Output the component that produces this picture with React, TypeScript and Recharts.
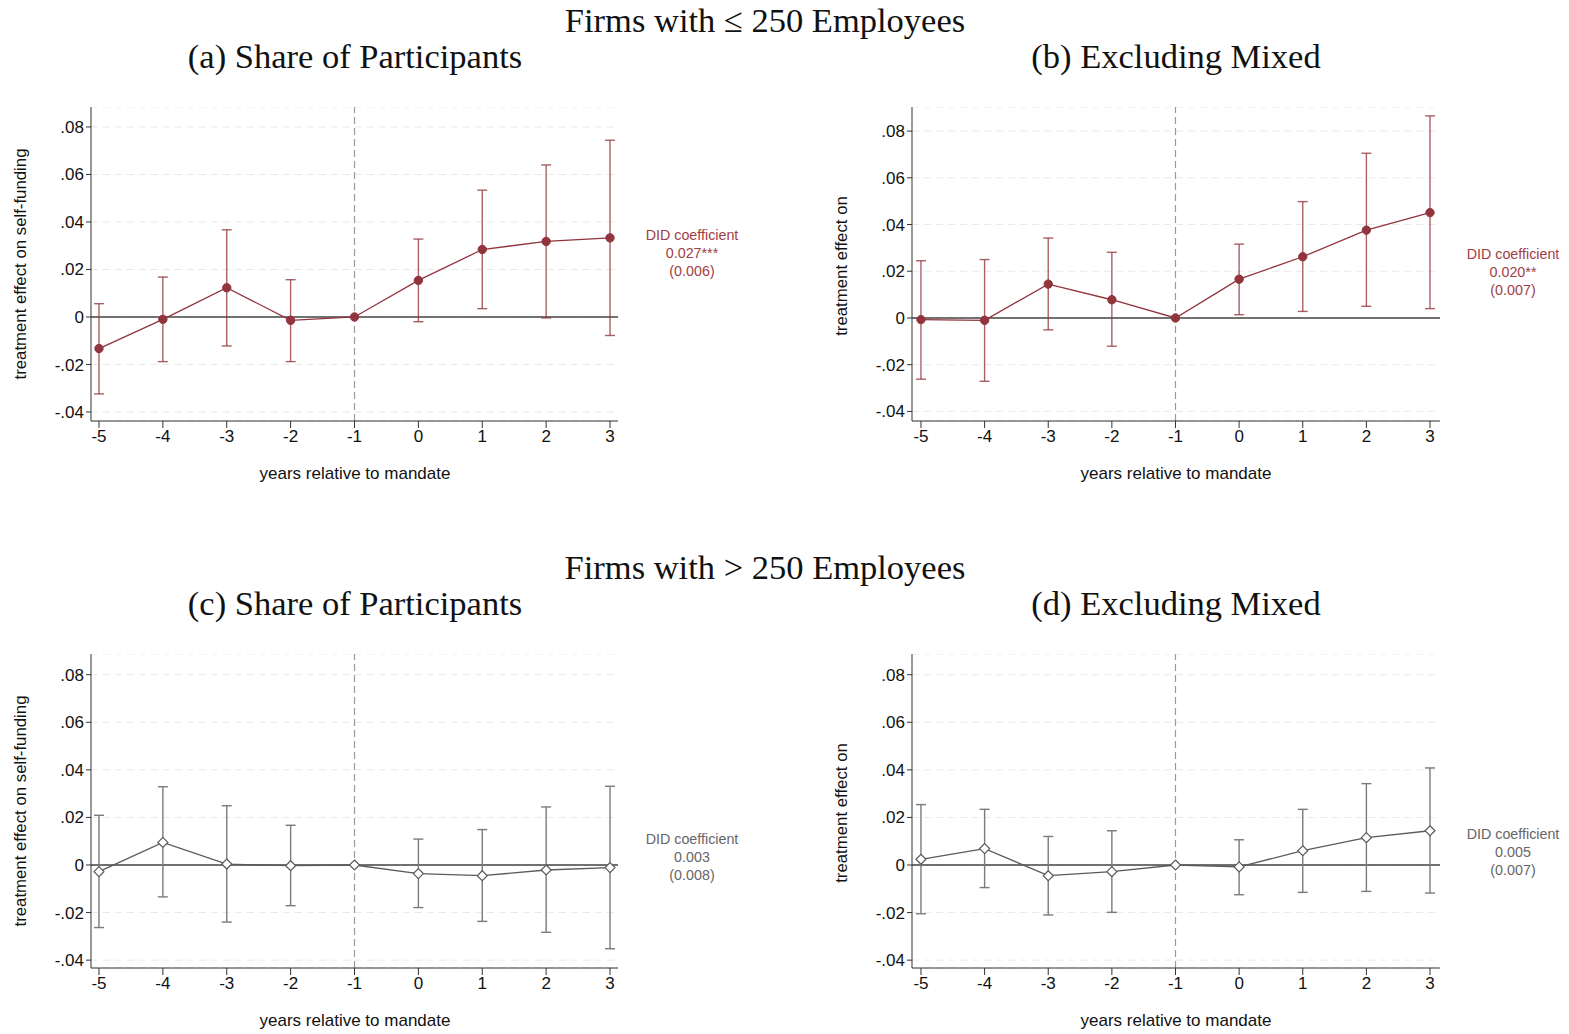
import React from 'react'
import {
    ComposedChart,
    Line,
    XAxis,
    YAxis,
    CartesianGrid,
    ReferenceLine,
    ErrorBar,
} from 'recharts'

// event time, shared by every panel
const years = [-5, -4, -3, -2, -1, 0, 1, 2, 3]
const yTicks = [-0.04, -0.02, 0, 0.02, 0.04, 0.06, 0.08]

// (a) small firms, share of participants
const estA = [-0.0133, -0.001, 0.0123, -0.0014, 0, 0.0154, 0.0284, 0.0318, 0.0333]
const loA = [-0.0324, -0.0188, -0.0122, -0.0188, 0, -0.002, 0.0035, -0.0004, -0.0078]
const hiA = [0.0056, 0.0168, 0.0367, 0.0157, 0, 0.0328, 0.0534, 0.064, 0.0744]

// (b) small firms, excluding mixed
const estB = [-0.0007, -0.001, 0.0145, 0.0078, 0, 0.0166, 0.0262, 0.0376, 0.0451]
const loB = [-0.0262, -0.0271, -0.0051, -0.0121, 0, 0.0014, 0.0028, 0.005, 0.004]
const hiB = [0.0245, 0.025, 0.0342, 0.0281, 0, 0.0316, 0.0498, 0.0705, 0.0865]

// (c) large firms, share of participants
const estC = [-0.0028, 0.0095, 0.0004, -0.0003, 0, -0.0036, -0.0045, -0.0021, -0.0011]
const loC = [-0.0263, -0.0134, -0.024, -0.0171, 0, -0.0179, -0.0237, -0.0283, -0.0352]
const hiC = [0.0209, 0.0329, 0.0249, 0.0167, 0, 0.0109, 0.0149, 0.0244, 0.0331]

// (d) large firms, excluding mixed
const estD = [0.0024, 0.0069, -0.0045, -0.0028, 0, -0.0008, 0.006, 0.0115, 0.0144]
const loD = [-0.0205, -0.0095, -0.021, -0.0199, 0, -0.0125, -0.0115, -0.0111, -0.0118]
const hiD = [0.0254, 0.0234, 0.012, 0.0144, 0, 0.0106, 0.0234, 0.0342, 0.0408]

const MAROON = '#91343c'
const GREY = '#5a5a5a'

const sans = '"Liberation Sans", Arial, Helvetica, sans-serif'
const serif = '"Liberation Serif", "Times New Roman", serif'

const buildRows = (est: number[], lo: number[], hi: number[]) =>
    years.map((yr, i) => ({
        year: yr,
        est: est[i],
        err: yr === -1 ? null : [est[i] - lo[i], hi[i] - est[i]],
    }))

const fmtTick = (v: number) => {
    if (v === 0) return '0'
    const s = v.toFixed(2)
    return s.replace('0.', '.')
}

const Diamond = (props: any) => {
    const { cx, cy } = props
    if (cx == null || cy == null) return null
    const r = 5
    return (
        <polygon
            points={`${cx},${cy - r} ${cx + r},${cy} ${cx},${cy + r} ${cx - r},${cy}`}
            fill="#fff"
            stroke={GREY}
            strokeWidth={1.2}
        />
    )
}

const Dot = (props: any) => {
    const { cx, cy } = props
    if (cx == null || cy == null) return null
    return <circle cx={cx} cy={cy} r={4.2} fill={MAROON} stroke={MAROON} />
}

interface PanelProps {
    rows: any[]
    left: number
    top: number
    width: number
    height: number
    xDomain: [number, number]
    yDomain: [number, number]
    color: string
    errColor: string
    hollow?: boolean
}

const AXW = 60
const AXH = 40

const tickStyle = { fill: '#111', fontSize: 17, fontFamily: sans }

const Panel = ({ rows, left, top, width, height, xDomain, yDomain, color, errColor, hollow }: PanelProps) => {
    return (
        <div style={{ position: 'absolute', left: left - AXW, top: top }}>
            <ComposedChart
                width={width + AXW + 4}
                height={height + AXH}
                data={rows}
                margin={{ top: 0, right: 4, left: 0, bottom: 0 }}
            >
                <CartesianGrid vertical={false} stroke="#e9e9e9" strokeDasharray="7 5" />
                <XAxis
                    dataKey="year"
                    type="number"
                    domain={xDomain}
                    ticks={years}
                    allowDataOverflow
                    height={AXH}
                    stroke="#333"
                    tickSize={7}
                    tick={tickStyle}
                    interval={0}
                />
                <YAxis
                    type="number"
                    domain={yDomain}
                    ticks={yTicks}
                    allowDataOverflow
                    width={AXW}
                    stroke="#333"
                    tickSize={5}
                    tickFormatter={fmtTick}
                    tick={tickStyle}
                    interval={0}
                />
                <ReferenceLine y={0} stroke="#444" strokeWidth={1.5} />
                <ReferenceLine x={-1} stroke="#9a9a9a" strokeWidth={1.2} strokeDasharray="7 4" />
                <Line
                    dataKey="est"
                    stroke={color}
                    strokeWidth={1.3}
                    isAnimationActive={false}
                    dot={hollow ? <Diamond /> : <Dot />}
                    activeDot={false}
                >
                    <ErrorBar
                        dataKey="err"
                        direction="y"
                        width={5}
                        stroke={errColor}
                        strokeWidth={1.4}
                        isAnimationActive={false}
                    />
                </Line>
            </ComposedChart>
        </div>
    )
}

const Txt = ({ x, y, size, family, color, children }: any) => (
    <div
        style={{
            position: 'absolute',
            left: x - 300,
            top: y - size * 0.6,
            width: 600,
            textAlign: 'center',
            fontSize: size,
            lineHeight: `${size * 1.2}px`,
            fontFamily: family,
            color: color || '#111',
            whiteSpace: 'nowrap',
        }}
    >
        {children}
    </div>
)

const VTxt = ({ x, y, children }: any) => (
    <div
        style={{
            position: 'absolute',
            left: x - 200,
            top: y - 10,
            width: 400,
            height: 20,
            lineHeight: '20px',
            textAlign: 'center',
            fontSize: 16.8,
            fontFamily: sans,
            color: '#111',
            transform: 'rotate(-90deg)',
            whiteSpace: 'nowrap',
        }}
    >
        {children}
    </div>
)

const Did = ({ x, y, color, coef, se }: any) => (
    <div
        style={{
            position: 'absolute',
            left: x - 80,
            top: y - 9,
            width: 160,
            textAlign: 'center',
            fontSize: 14.3,
            lineHeight: '18px',
            fontFamily: sans,
            color,
        }}
    >
        <div>DID coefficient</div>
        <div>{coef}</div>
        <div>{se}</div>
    </div>
)

export default function App() {
    const rowsA = buildRows(estA, loA, hiA)
    const rowsB = buildRows(estB, loB, hiB)
    const rowsC = buildRows(estC, loC, hiC)
    const rowsD = buildRows(estD, loD, hiD)

    return (
        <div
            style={{
                position: 'absolute',
                left: 0,
                top: 0,
                width: 1569,
                height: 1034,
                background: '#fff',
                overflow: 'hidden',
            }}
        >
            <Txt x={765} y={21} size={34.5} family={serif}>Firms with ≤ 250 Employees</Txt>
            <Txt x={355} y={57} size={34.5} family={serif}>(a) Share of Participants</Txt>
            <Txt x={1176} y={57} size={34.5} family={serif}>(b) Excluding Mixed</Txt>
            <Txt x={765} y={568} size={34.5} family={serif}>Firms with &gt; 250 Employees</Txt>
            <Txt x={355} y={604} size={34.5} family={serif}>(c) Share of Participants</Txt>
            <Txt x={1176} y={604} size={34.5} family={serif}>(d) Excluding Mixed</Txt>

            <Panel
                rows={rowsA}
                left={91}
                top={107}
                width={527}
                height={314}
                xDomain={[-5.125, 3.125]}
                yDomain={[-0.0438, 0.0884]}
                color={MAROON}
                errColor="rgba(145,52,60,0.78)"
            />
            <Panel
                rows={rowsB}
                left={912}
                top={107}
                width={528}
                height={314}
                xDomain={[-5.141, 3.157]}
                yDomain={[-0.0441, 0.0903]}
                color={MAROON}
                errColor="rgba(145,52,60,0.78)"
            />
            <Panel
                rows={rowsC}
                left={91}
                top={654}
                width={527}
                height={314}
                xDomain={[-5.125, 3.125]}
                yDomain={[-0.0433, 0.0887]}
                color={GREY}
                errColor="#7a7a7a"
                hollow
            />
            <Panel
                rows={rowsD}
                left={912}
                top={654}
                width={528}
                height={314}
                xDomain={[-5.141, 3.157]}
                yDomain={[-0.0433, 0.0887]}
                color={GREY}
                errColor="#7a7a7a"
                hollow
            />

            <Txt x={355} y={474} size={17} family={sans}>years relative to mandate</Txt>
            <Txt x={1176} y={474} size={17} family={sans}>years relative to mandate</Txt>
            <Txt x={355} y={1021} size={17} family={sans}>years relative to mandate</Txt>
            <Txt x={1176} y={1021} size={17} family={sans}>years relative to mandate</Txt>

            <VTxt x={21} y={264}>treatment effect on self-funding</VTxt>
            <VTxt x={842} y={266}>treatment effect on</VTxt>
            <VTxt x={21} y={811}>treatment effect on self-funding</VTxt>
            <VTxt x={842} y={813}>treatment effect on</VTxt>

            <Did x={692} y={235} color="#a03e46" coef="0.027***" se="(0.006)" />
            <Did x={1513} y={254} color="#a03e46" coef="0.020**" se="(0.007)" />
            <Did x={692} y={839} color="#666" coef="0.003" se="(0.008)" />
            <Did x={1513} y={834} color="#666" coef="0.005" se="(0.007)" />
        </div>
    )
}
